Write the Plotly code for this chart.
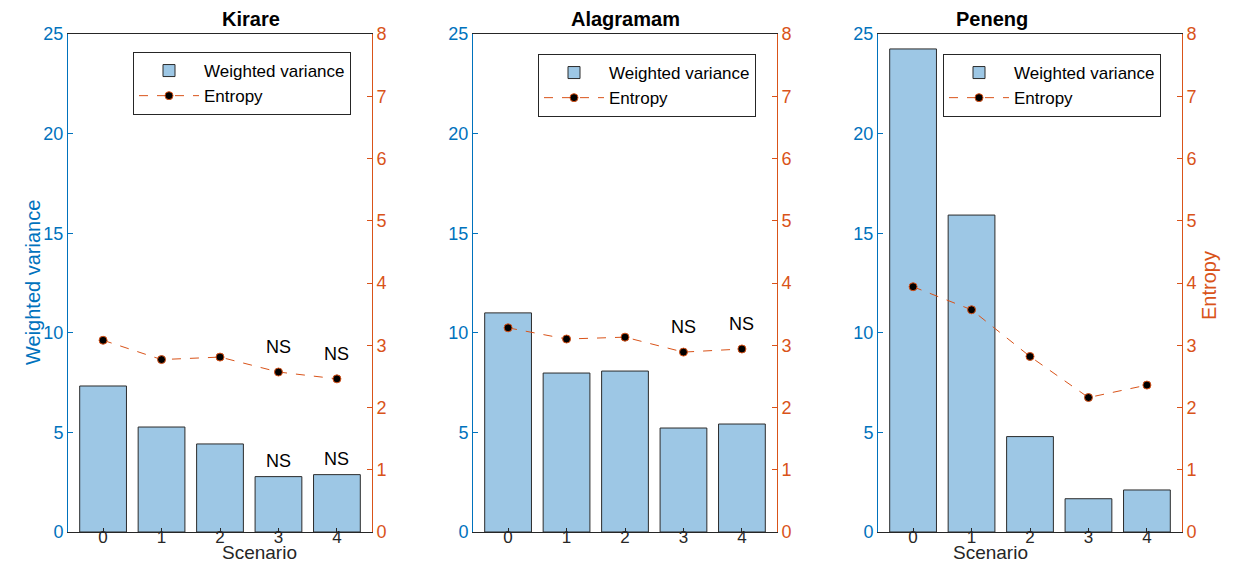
import plotly.graph_objects as go
from plotly.subplots import make_subplots

# ---- data ----
scenarios = [0, 1, 2, 3, 4]
sites = ["Kirare", "Alagramam", "Peneng"]
wvar_kirare = [7.33, 5.27, 4.42, 2.78, 2.88]
wvar_alagramam = [11.0, 7.98, 8.08, 5.22, 5.42]
wvar_peneng = [24.25, 15.91, 4.79, 1.67, 2.11]
ent_kirare = [3.08, 2.77, 2.81, 2.57, 2.46]
ent_alagramam = [3.28, 3.10, 3.13, 2.89, 2.94]
ent_peneng = [3.94, 3.57, 2.82, 2.16, 2.36]
ns_bar_kirare = [False, False, False, True, True]
ns_bar_alagramam = [False, False, False, False, False]
ns_bar_peneng = [False, False, False, False, False]
ns_ent_kirare = [False, False, False, True, True]
ns_ent_alagramam = [False, False, False, True, True]
ns_ent_peneng = [False, False, False, False, False]
left_ticks = [0, 5, 10, 15, 20, 25]
right_ticks = [0, 1, 2, 3, 4, 5, 6, 7, 8]

wvars = [wvar_kirare, wvar_alagramam, wvar_peneng]
ents = [ent_kirare, ent_alagramam, ent_peneng]
ns_bars = [ns_bar_kirare, ns_bar_alagramam, ns_bar_peneng]
ns_ents = [ns_ent_kirare, ns_ent_alagramam, ns_ent_peneng]

W, H = 1242, 562
BLUE = "#0072BD"
ORANGE = "#D95319"
BARFILL = "#9DC7E5"
FONT = "Liberation Sans, Arial, Helvetica, sans-serif"


def px(xp):
    return xp / W


def py(yp):
    return 1 - yp / H


fig = make_subplots(rows=1, cols=3, specs=[[{"secondary_y": True}] * 3])

xdom = [(68, 372), (473, 777), (878, 1182)]
ytop, ybot = 34, 532
legend_pos = [(133, 52), (538, 54), (943, 54)]
legend_names = ["legend", "legend2", "legend3"]

for i in range(3):
    col = i + 1
    lg = legend_names[i]
    fig.add_trace(go.Bar(x=scenarios, y=wvars[i], width=0.8, name="Weighted variance",
                         marker=dict(color=BARFILL, line=dict(color="#2b2b2b", width=1)),
                         legend=lg, showlegend=True),
                  row=1, col=col, secondary_y=False)
    fig.add_trace(go.Scatter(x=scenarios, y=ents[i], mode="lines+markers", name="Entropy",
                             line=dict(color=ORANGE, width=1, dash="dash"),
                             marker=dict(color="black", size=8, line=dict(color=ORANGE, width=1)),
                             legend=lg, showlegend=True),
                  row=1, col=col, secondary_y=True)

    xa = "xaxis" if i == 0 else f"xaxis{i+1}"
    ya = "yaxis" if i == 0 else f"yaxis{2*i+1}"
    ya2 = f"yaxis{2*i+2}"
    d0 = px(xdom[i][0])
    d1 = px(xdom[i][1])
    yd = [py(ybot), py(ytop)]
    fig.layout[xa].update(domain=[d0, d1], range=[-0.6, 4.6], tickvals=scenarios,
                          showline=True, linecolor="#262626", linewidth=1, mirror=True,
                          ticks="inside", ticklen=4, tickcolor="#262626", showgrid=False,
                          zeroline=False, automargin=False, ticklabelstandoff=-10,
                          tickfont=dict(size=17, color="#262626", family=FONT))
    fig.layout[ya].update(domain=yd, range=[0, 25], tickvals=left_ticks, showline=True,
                          linecolor=BLUE, linewidth=1, ticks="inside", ticklen=5, tickcolor=BLUE,
                          showgrid=False, zeroline=False, automargin=False,
                          tickfont=dict(size=18, color=BLUE, family=FONT))
    fig.layout[ya2].update(domain=yd, range=[0, 8], tickvals=right_ticks, showline=True,
                           linecolor=ORANGE, linewidth=1, ticks="inside", ticklen=5,
                           tickcolor=ORANGE, showgrid=False, zeroline=False, automargin=False,
                           tickfont=dict(size=18, color=ORANGE, family=FONT))

    lx, ly = legend_pos[i]
    fig.layout[lg] = dict(x=px(lx), y=py(ly), xanchor="left", yanchor="top",
                          bordercolor="#262626", borderwidth=1, bgcolor="white",
                          font=dict(size=17, color="black", family=FONT),
                          tracegroupgap=0, itemwidth=60)

    # title
    fig.add_annotation(x=(d0 + d1) / 2, y=py(19), xref="paper", yref="paper",
                       text=f"<b>{sites[i]}</b>", showarrow=False, yanchor="middle",
                       font=dict(size=20, color="black", family=FONT))
    if i != 1:
        fig.add_annotation(x=(d0 + d1) / 2, y=py(552), xref="paper", yref="paper",
                           text="Scenario", showarrow=False, yanchor="middle",
                           font=dict(size=19, color="#262626", family=FONT))

    xr = "x" if i == 0 else f"x{i+1}"
    yr = "y" if i == 0 else f"y{2*i+1}"
    yr2 = f"y{2*i+2}"
    for k, s in enumerate(scenarios):
        if ns_bars[i][k]:
            fig.add_annotation(x=s, y=wvars[i][k], xref=xr, yref=yr, text="NS",
                               showarrow=False, yshift=16,
                               font=dict(size=18, color="black", family=FONT))
        if ns_ents[i][k]:
            fig.add_annotation(x=s, y=ents[i][k], xref=xr, yref=yr2, text="NS",
                               showarrow=False, yshift=25,
                               font=dict(size=18, color="black", family=FONT))

# y-axis titles
fig.add_annotation(x=px(20), y=py(283), xref="paper", yref="paper",
                   text="Weighted variance", showarrow=False, textangle=-90,
                   font=dict(size=20, color=BLUE, family=FONT))
fig.add_annotation(x=px(1222), y=py(286), xref="paper", yref="paper",
                   text="Entropy", showarrow=False, textangle=-90,
                   font=dict(size=20, color=ORANGE, family=FONT))

fig.update_layout(width=W, height=H, margin=dict(l=0, r=0, t=0, b=0, autoexpand=False),
                  paper_bgcolor="white", plot_bgcolor="white", bargap=0.2,
                  font=dict(family=FONT))

fig.write_html("out.html", config={"displayModeBar": False},
               post_script="document.body.style.margin='0px';")
